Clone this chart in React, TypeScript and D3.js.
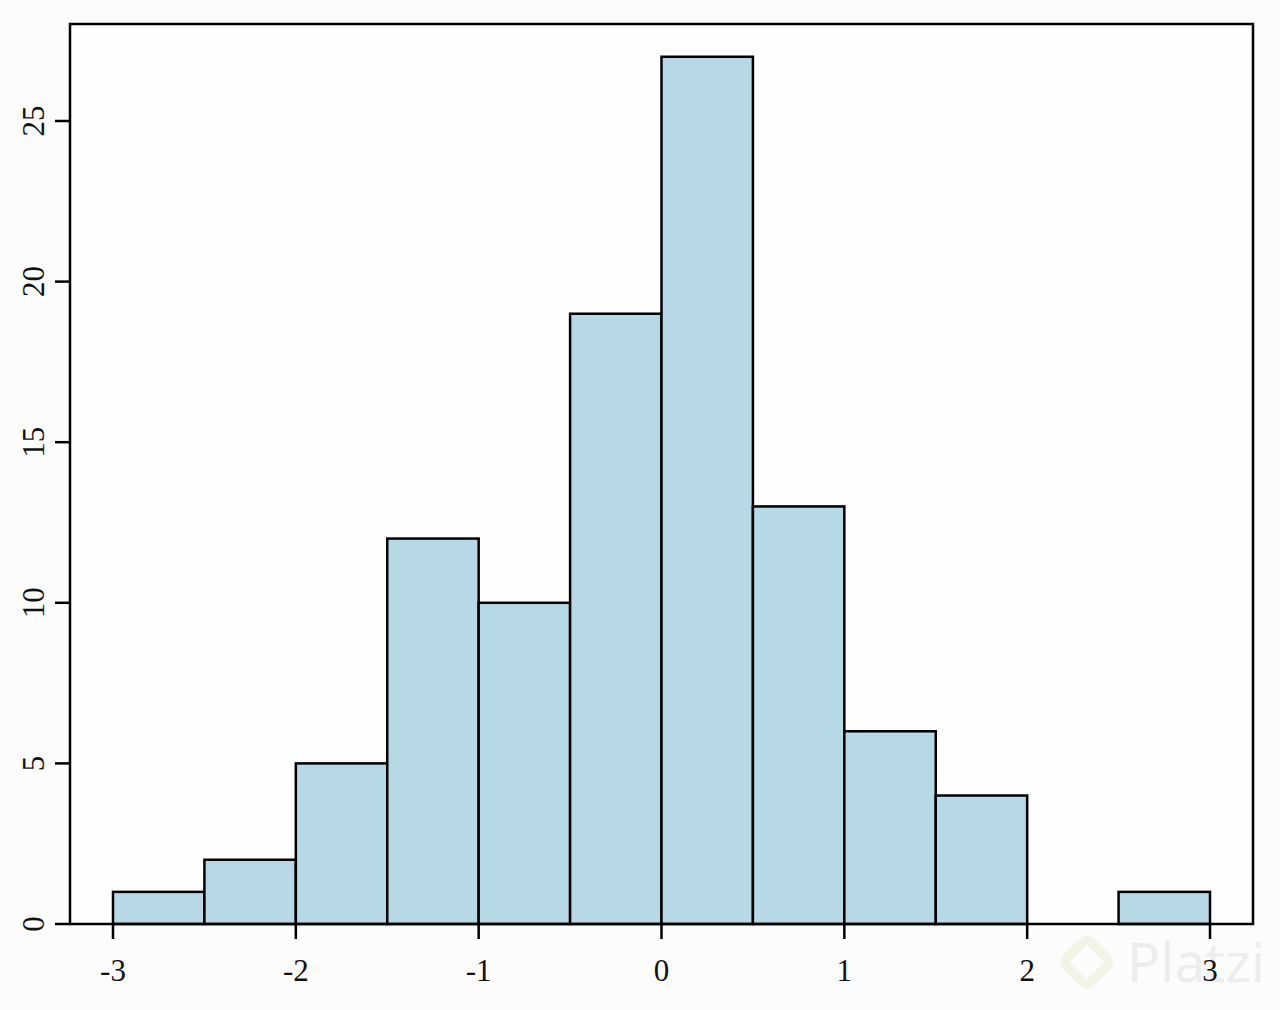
import React, { useEffect, useRef } from "react";
import * as d3 from "d3";

const binEdges = [-3, -2.5, -2, -1.5, -1, -0.5, 0, 0.5, 1, 1.5, 2, 2.5, 3];
const counts = [1, 2, 5, 12, 10, 19, 27, 13, 6, 4, 0, 1];
const xTicks = [-3, -2, -1, 0, 1, 2, 3];
const yTicks = [0, 5, 10, 15, 20, 25];

const W = 1280;
const H = 1010;
const box = { left: 70, right: 1253, top: 24, bottom: 924 };

export default function App() {
  const ref = useRef<SVGSVGElement>(null);
  useEffect(() => {
    const svg = d3.select(ref.current);
    svg.selectAll("*").remove();
    const x = d3.scaleLinear().domain([-3, 3]).range([113, 1210]);
    const y = d3.scaleLinear().domain([0, 25]).range([924, 121]);
    const font = "'Liberation Serif', 'Times New Roman', serif";

    svg.append("rect").attr("width", W).attr("height", H).attr("fill", "#fcfcfc");
    svg.append("rect")
      .attr("x", box.left).attr("y", box.top)
      .attr("width", box.right - box.left).attr("height", box.bottom - box.top)
      .attr("fill", "#fefefe");

    const bins = counts.map((c, i) => ({ x0: binEdges[i], x1: binEdges[i + 1], c }));
    svg.append("g").selectAll("rect").data(bins.filter(b => b.c > 0)).join("rect")
      .attr("x", d => x(d.x0))
      .attr("width", d => x(d.x1) - x(d.x0))
      .attr("y", d => y(d.c))
      .attr("height", d => y(0) - y(d.c))
      .attr("fill", "#b7d8e5")
      .attr("stroke", "#000")
      .attr("stroke-width", 2.5);

    // box
    svg.append("rect")
      .attr("x", box.left).attr("y", box.top)
      .attr("width", box.right - box.left).attr("height", box.bottom - box.top)
      .attr("fill", "none").attr("stroke", "#000").attr("stroke-width", 2.5);

    // watermark (drawn beneath axis labels)
    const wm = svg.append("g").attr("opacity", 0.9);
    wm.append("rect")
      .attr("x", -17).attr("y", -17).attr("width", 34).attr("height", 34)
      .attr("rx", 5)
      .attr("transform", "translate(1087,962) rotate(45)")
      .attr("fill", "none").attr("stroke", "#f1f5e4").attr("stroke-width", 9);
    wm.append("text")
      .attr("x", 1127).attr("y", 982)
      .attr("font-family", "'Noto Sans', sans-serif").attr("font-size", 55)
      .attr("fill", "#ececec")
      .text("Platzi");

    // x axis ticks
    const gx = svg.append("g");
    gx.selectAll("line").data(xTicks).join("line")
      .attr("x1", d => x(d)).attr("x2", d => x(d))
      .attr("y1", box.bottom).attr("y2", box.bottom + 15)
      .attr("stroke", "#000").attr("stroke-width", 2.5);
    gx.selectAll("text").data(xTicks).join("text")
      .attr("x", d => x(d)).attr("y", 981)
      .attr("text-anchor", "middle")
      .attr("font-family", font).attr("font-size", 31)
      .attr("fill", "#111")
      .text(d => String(d));

    // y axis ticks
    const gy = svg.append("g");
    gy.selectAll("line").data(yTicks).join("line")
      .attr("x1", 55).attr("x2", box.left)
      .attr("y1", d => y(d)).attr("y2", d => y(d))
      .attr("stroke", "#000").attr("stroke-width", 2.5);
    gy.selectAll("text").data(yTicks).join("text")
      .attr("transform", d => `translate(44,${y(d)}) rotate(-90)`)
      .attr("text-anchor", "middle")
      .attr("font-family", font).attr("font-size", 31)
      .attr("fill", "#111")
      .text(d => String(d));
  }, []);
  return (
    <svg ref={ref} width={W} height={H} style={{ position: "absolute", left: 0, top: 0 }} />
  );
}
